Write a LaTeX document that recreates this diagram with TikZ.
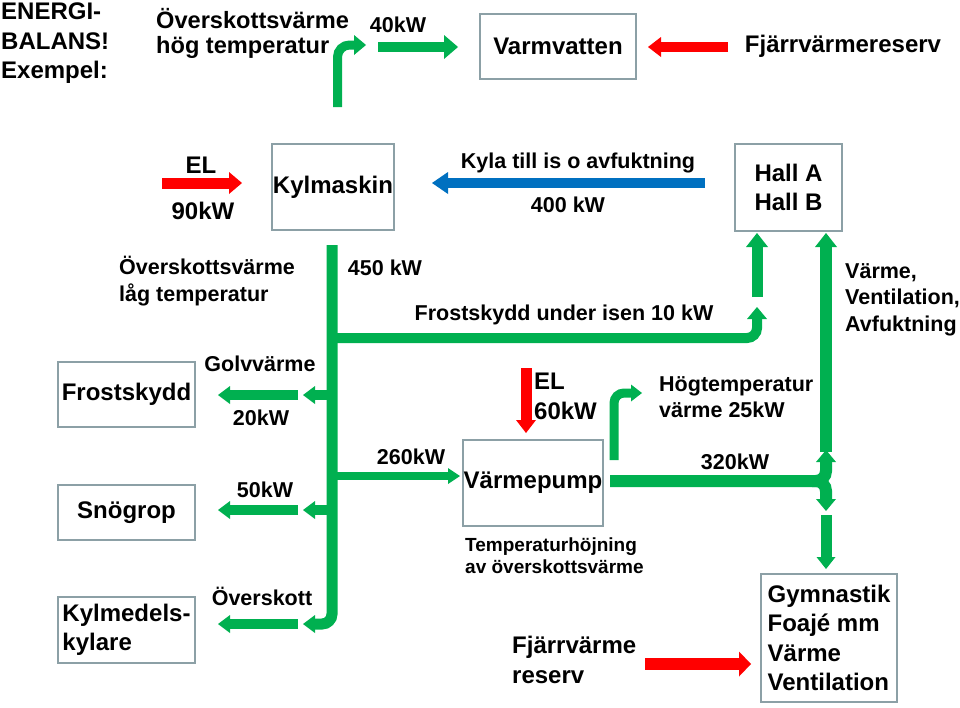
\documentclass[tikz,border=0pt]{standalone}
\usepackage{fontspec}
\setmainfont{Liberation Sans}
\usetikzlibrary{arrows.meta}
\definecolor{grn}{RGB}{0,176,80}
\definecolor{rd}{RGB}{255,0,0}
\definecolor{blu}{RGB}{0,112,192}
\definecolor{boxgray}{RGB}{140,160,166}
\newcommand\tA{\fontsize{24}{29.5}\selectfont\bfseries}
\newcommand\tB{\fontsize{21.5}{26.5}\selectfont\bfseries}
\newcommand\tC{\fontsize{19}{22}\selectfont\bfseries}
\newcommand\tD{\fontsize{23.6}{25}\selectfont\bfseries}
\tikzset{
  box/.style={draw=boxgray, line width=2.5pt, inner sep=0pt, font=\tA, align=center},
  lbl/.style={inner sep=0pt, font=\tB, align=left},
  lblA/.style={inner sep=0pt, font=\tA, align=left},
  lblC/.style={inner sep=0pt, font=\tC, align=left},
  lblD/.style={inner sep=0pt, font=\tD, align=left},
  arr/.style n args={4}{draw=#1, line width=#2pt, -{Triangle[width=#3pt,length=#4pt,line width=0pt]}},
}
\begin{document}
\begin{tikzpicture}[x=1pt,y=-1pt]
\useasboundingbox (0,0) rectangle (960,707);

% ---------- boxes ----------
\node[box, minimum width=156pt, minimum height=65pt] (varm) at (558,46.5) {Varmvatten};
\node[box, minimum width=122pt, minimum height=86pt] (kyl) at (333,187) {Kylmaskin};
\node[box, minimum width=107pt, minimum height=87pt] (hall) at (788.5,187.5) {Hall A\\Hall B};
\node[box, minimum width=137pt, minimum height=65pt] (frost) at (126.5,394.5) {Frostskydd};
\node[box, minimum width=137pt, minimum height=55pt] (sno) at (126.5,512.5) {Snögrop};
\node[box, minimum width=137pt, minimum height=66pt, align=left] (kylm) at (126.5,630) {Kylmedels-\\kylare};
\node[box, minimum width=140pt, minimum height=86pt] (vp) at (533,483) {Värmepump};
\node[box, minimum width=136pt, minimum height=128pt, align=left] (gym) at (829,638) {Gymnastik\\Foajé mm\\Värme\\Ventilation};

% ---------- labels ----------
\node[lblA, anchor=north west] (energi) at (1,3) {ENERGI-\\BALANS!\\Exempel:};
\node[lblD, anchor=north west] (hogtemp) at (156,8) {Överskottsvärme\\hög temperatur};
\node[lbl] (t40) at (398,25) {40kW};
\node[lblA] (fjres) at (843,46) {Fjärrvärmereserv};
\node[lblA] (el1) at (201,165) {EL};
\node[lblA] (kw90) at (203,211) {90kW};
\node[lbl] (kyla) at (578,163) {Kyla till is o avfuktning};
\node[lbl] (kw400) at (568,205) {400 kW};
\node[lbl, anchor=north west] (lagtemp) at (119,256) {Överskottsvärme\\låg temperatur};
\node[lbl] (kw450) at (385,268) {450 kW};
\node[lbl] (frostisen) at (564,315) {Frostskydd under isen 10 kW};
\node[lbl, anchor=north west] (vva) at (845,263) {Värme,\\Ventilation,\\Avfuktning};
\node[lbl] (golv) at (260,364) {Golvvärme};
\node[lbl] (kw20) at (261,418) {20kW};
\node[lblA, anchor=north west] (el60) at (534,373) {EL\\60kW};
\node[lbl, anchor=north west] (hogt25) at (659,376) {Högtemperatur\\värme 25kW};
\node[lbl] (kw50) at (265,490) {50kW};
\node[lbl] (kw260) at (411,457) {260kW};
\node[lbl] (kw320) at (735,462) {320kW};
\node[lblC, anchor=north west] (temph) at (465,538) {Temperaturhöjning\\av överskottsvärme};
\node[lbl] (oversk) at (262,596) {Överskott};
\node[lblA, anchor=north west] (fjv2) at (512,636) {Fjärrvärme\\reserv};

% ---------- connector end points ----------
\coordinate (a1s) at (337.5,107); \coordinate (a1c) at (337.5,45); \coordinate (a1e) at (366,45);
\coordinate (a2s) at (378,47); \coordinate (a2e) at (458,47);
\coordinate (r1s) at (728,47); \coordinate (r1e) at (648,47);
\coordinate (r2s) at (162,183); \coordinate (r2e) at (242,183);
\coordinate (b1s) at (705,183); \coordinate (b1e) at (432,183);
\coordinate (trTop) at (332,245); \coordinate (trBot) at (332,624); \coordinate (trEnd) at (303,624);
\coordinate (trG) at (332,395); \coordinate (trGe) at (303,395);
\coordinate (trS) at (332,510); \coordinate (trSe) at (303,510);
\coordinate (g1s) at (298,395); \coordinate (g1e) at (218,395);
\coordinate (g2s) at (298,510); \coordinate (g2e) at (218,510);
\coordinate (g3s) at (298,624); \coordinate (g3e) at (218,624);
\coordinate (fs) at (332,338); \coordinate (fc) at (757,338); \coordinate (fe) at (757,307);
\coordinate (h1s) at (757,297); \coordinate (h1e) at (757,233);
\coordinate (vps) at (332,476); \coordinate (vpe) at (460,476);
\coordinate (os) at (610,481); \coordinate (oj) at (826,481); \coordinate (ou) at (826,450);
\coordinate (od0) at (812,481); \coordinate (od) at (826,511);
\coordinate (h2s) at (826,452); \coordinate (h2e) at (826,233);
\coordinate (d2s) at (826,515); \coordinate (d2e) at (826,569);
\coordinate (hts) at (614,460); \coordinate (htc) at (614,393); \coordinate (hte) at (642,393);
\coordinate (e6s) at (526,368); \coordinate (e6e) at (526,433);
\coordinate (r3s) at (645,664); \coordinate (r3e) at (751,664);

% ---------- green flows ----------
\draw[arr={grn}{9}{20}{12}, rounded corners=12pt] (a1s) -- (a1c) -- (a1e);
\draw[arr={grn}{10}{24}{14}] (a2s) -- (a2e);
\draw[arr={grn}{11}{18}{12}, rounded corners=10pt] (trTop) -- (trBot) -- (trEnd);
\draw[arr={grn}{10}{18}{12}] (trG) -- (trGe);
\draw[arr={grn}{10}{18}{12}] (trS) -- (trSe);
\draw[arr={grn}{10}{18}{12}] (g1s) -- (g1e);
\draw[arr={grn}{10}{18}{12}] (g2s) -- (g2e);
\draw[arr={grn}{10}{18}{12}] (g3s) -- (g3e);
\draw[arr={grn}{10}{20}{12}, rounded corners=10pt] (fs) -- (fc) -- (fe);
\draw[arr={grn}{11}{22}{14}] (h1s) -- (h1e);
\draw[arr={grn}{8}{16}{12}] (vps) -- (vpe);
\draw[arr={grn}{12}{22}{14}] (h2s) -- (h2e);
\draw[arr={grn}{12}{20}{12}, rounded corners=10pt] (os) -- (oj) -- (ou);
\draw[arr={grn}{12}{20}{12}, rounded corners=10pt] (od0) -- (oj) -- (od);
\draw[arr={grn}{11}{19}{12}] (d2s) -- (d2e);
\draw[arr={grn}{9}{17}{11}, rounded corners=10pt] (hts) -- (htc) -- (hte);

% ---------- red and blue flows ----------
\draw[arr={rd}{10}{20}{13}] (r1s) -- (r1e);
\draw[arr={rd}{11}{22}{13}] (r2s) -- (r2e);
\draw[arr={blu}{10}{22}{16}] (b1s) -- (b1e);
\draw[arr={rd}{11}{20}{13}] (e6s) -- (e6e);
\draw[arr={rd}{12}{25}{12}] (r3s) -- (r3e);
\end{tikzpicture}
\end{document}
